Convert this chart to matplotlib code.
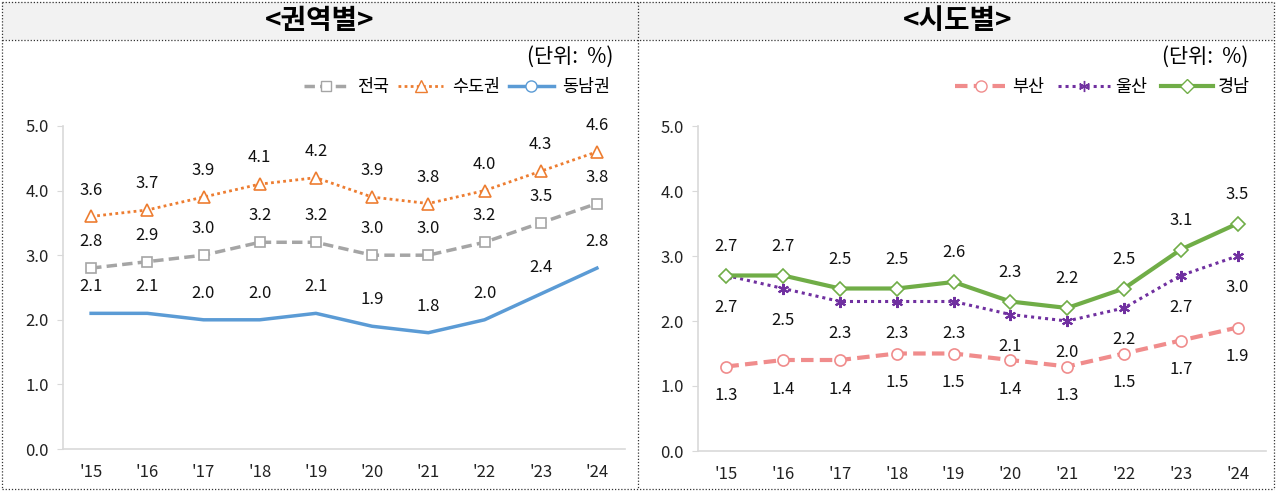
import matplotlib as mpl
mpl.use("Agg")
import matplotlib.pyplot as plt
from matplotlib.lines import Line2D
from matplotlib.patches import Rectangle

plt.rcParams["font.family"] = ["Noto Sans CJK KR", "DejaVu Sans"]

years = ["'15", "'16", "'17", "'18", "'19", "'20", "'21", "'22", "'23", "'24"]

# 권역별
nation = [2.8, 2.9, 3.0, 3.2, 3.2, 3.0, 3.0, 3.2, 3.5, 3.8]
capital = [3.6, 3.7, 3.9, 4.1, 4.2, 3.9, 3.8, 4.0, 4.3, 4.6]
southeast = [2.1, 2.1, 2.0, 2.0, 2.1, 1.9, 1.8, 2.0, 2.4, 2.8]

# 시도별
busan = [1.3, 1.4, 1.4, 1.5, 1.5, 1.4, 1.3, 1.5, 1.7, 1.9]
ulsan = [2.7, 2.5, 2.3, 2.3, 2.3, 2.1, 2.0, 2.2, 2.7, 3.0]
gyeongnam = [2.7, 2.7, 2.5, 2.5, 2.6, 2.3, 2.2, 2.5, 3.1, 3.5]

W, H = 1276, 491
fig = plt.figure(figsize=(W / 100, H / 100), dpi=100)

def fx(px): return px / W
def fy(py): return 1 - py / H

# frame, title bars, dotted separators
fig.patches.append(Rectangle((fx(2), fy(40)), fx(1272), fy(2) - fy(40), transform=fig.transFigure,
                             fc="#F2F2F2", ec="none", zorder=0))
for xs, ys in [([2, 1274], [2, 2]), ([2, 1274], [40, 40]), ([2, 1274], [489, 489]),
               ([2, 2], [2, 489]), ([1274, 1274], [2, 489]), ([638, 638], [2, 489])]:
    fig.lines.append(Line2D([fx(x) for x in xs], [fy(y) for y in ys], transform=fig.transFigure,
                            color="#333333", lw=0.9, ls=(0, (1, 1.5))))
fig.text(fx(320), fy(21), "<권역별>", ha="center", va="center", fontsize=20, fontweight="bold")
fig.text(fx(958), fy(21), "<시도별>", ha="center", va="center", fontsize=20, fontweight="bold")
fig.text(fx(613), fy(57), "(단위:  %)", ha="right", va="center", fontsize=15)
fig.text(fx(1248), fy(57), "(단위:  %)", ha="right", va="center", fontsize=15)

def setup(ax):
    ax.set_xlim(-0.5, 9.5); ax.set_ylim(0, 5)
    ax.set_xticks(range(10)); ax.set_xticklabels(years)
    ax.set_yticks([0, 1, 2, 3, 4, 5])
    ax.set_yticklabels([f"{v:.1f}" for v in range(6)])
    for s in ("top", "right"): ax.spines[s].set_visible(False)
    for s in ("left", "bottom"):
        ax.spines[s].set_color("#D9D9D9"); ax.spines[s].set_linewidth(1.2)
    ax.tick_params(axis="x", length=0, pad=11, labelsize=12, colors="#222222")
    ax.tick_params(axis="y", length=4, color="#D9D9D9", pad=6, labelsize=12, labelcolor="#222222")

def labels(ax, vals, dy):
    for i, v in enumerate(vals):
        ax.annotate(f"{v:.1f}", (i, v), textcoords="offset points", xytext=(0, dy),
                    ha="center", va="center", fontsize=12, color="#111111")

# left panel
ax1 = fig.add_axes([fx(63), fy(449), fx(562), fy(126) - fy(449)])
setup(ax1)
ax1.plot(range(10), nation, color="#A5A5A5", lw=2.5, ls=(0, (3, 1.5)), marker="s", ms=7,
         mfc="white", mec="#A5A5A5", mew=1.2)
ax1.plot(range(10), capital, color="#ED7D31", lw=2, ls=(0, (1, 1.2)), marker="^", ms=8,
         mfc="white", mec="#ED7D31", mew=1.2)
ax1.plot(range(10), southeast, color="#5B9BD5", lw=2.5)
labels(ax1, nation, 19); labels(ax1, capital, 19); labels(ax1, southeast, 19)
h1 = [Line2D([], [], color="#A5A5A5", lw=2.5, ls=(0, (3, 1.5)), marker="s", ms=7, mfc="white", mec="#A5A5A5"),
      Line2D([], [], color="#ED7D31", lw=2, ls=(0, (1, 1.2)), marker="^", ms=8, mfc="white", mec="#ED7D31"),
      Line2D([], [], color="#5B9BD5", lw=2.5, marker="o", ms=8, mfc="white", mec="#5B9BD5")]
fig.legend(h1, ["전국", "수도권", "동남권"], loc="center right", bbox_to_anchor=(fx(626), fy(87)),
           ncol=3, frameon=False, fontsize=12.5, handlelength=2.6, columnspacing=0.5, handletextpad=0.5)

# right panel
ax2 = fig.add_axes([fx(698), fy(451), fx(568), fy(126) - fy(451)])
setup(ax2)
ax2.plot(range(10), busan, color="#F08C8C", lw=3, ls=(0, (3, 1.5)), marker="o", ms=8,
         mfc="white", mec="#F08C8C", mew=1.2)
ax2.plot(range(10), ulsan, color="#7030A0", lw=2.2, ls=(0, (1, 1.3)), marker=(6, 2, 0), ms=8,
         mec="#7030A0", mew=1.5)
ax2.plot(range(10), gyeongnam, color="#70AD47", lw=3, marker="D", ms=7,
         mfc="white", mec="#70AD47", mew=1.2)
labels(ax2, gyeongnam, 21); labels(ax2, ulsan, -23); labels(ax2, busan, -21)
h2 = [Line2D([], [], color="#F08C8C", lw=3, ls=(0, (3, 1.5)), marker="o", ms=8, mfc="white", mec="#F08C8C"),
      Line2D([], [], color="#7030A0", lw=2.2, ls=(0, (1, 1.3)), marker=(6, 2, 0), ms=8, mec="#7030A0"),
      Line2D([], [], color="#70AD47", lw=3, marker="D", ms=7, mfc="white", mec="#70AD47")]
fig.legend(h2, ["부산", "울산", "경남"], loc="center right", bbox_to_anchor=(fx(1266), fy(87)),
           ncol=3, frameon=False, fontsize=12.5, handlelength=3.0, columnspacing=0.8, handletextpad=0.3)

fig.savefig("out.png", dpi=100)
